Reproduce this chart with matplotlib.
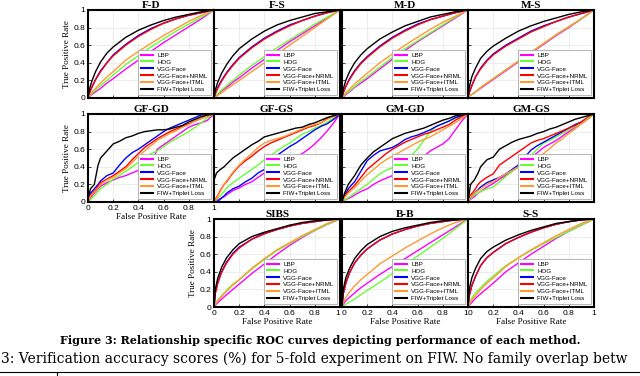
import matplotlib
matplotlib.use("Agg")
import matplotlib.pyplot as plt

# methods / colours
methods = ['LBP', 'HOG', 'VGG-Face', 'VGG-Face+NRML', 'VGG-Face+ITML', 'FIW+Triplet Loss']
colors = ['#ff00ff', '#66ff33', '#0000ff', '#ff0000', '#ff9933', '#000000']

# false positive rate grids (smooth panels / jagged panels)
fpr_s = [0, 0.01, 0.03, 0.06, 0.1, 0.15, 0.2, 0.3, 0.4, 0.5, 0.6, 0.7, 0.8, 0.9, 1.0]
fpr_j = [0, 0.02, 0.05, 0.08, 0.1, 0.15, 0.2, 0.25, 0.3, 0.35, 0.4, 0.45, 0.5,
         0.55, 0.6, 0.65, 0.7, 0.75, 0.8, 0.85, 0.9, 0.95, 1.0]

# true positive rates, order: LBP, HOG, VGG-Face, NRML, ITML, FIW
FD = [[0, .01, .04, .07, .11, .17, .22, .33, .43, .53, .63, .72, .81, .90, 1],
      [0, .02, .05, .09, .14, .20, .26, .38, .48, .58, .67, .76, .84, .92, 1],
      [0, .05, .12, .21, .31, .40, .49, .61, .71, .79, .85, .90, .94, .97, 1],
      [0, .05, .12, .21, .30, .40, .48, .60, .70, .78, .85, .90, .94, .97, 1],
      [0, .02, .06, .11, .17, .24, .30, .43, .53, .62, .71, .79, .87, .94, 1],
      [0, .09, .19, .30, .41, .51, .58, .69, .77, .83, .88, .92, .95, .98, 1]]
FS = [[0, .02, .04, .08, .12, .18, .23, .34, .44, .54, .64, .73, .82, .91, 1],
      [0, .02, .05, .09, .14, .20, .26, .37, .47, .57, .66, .75, .84, .92, 1],
      [0, .05, .12, .20, .29, .38, .46, .58, .68, .76, .83, .88, .93, .97, 1],
      [0, .05, .11, .19, .28, .37, .45, .57, .67, .75, .82, .88, .93, .97, 1],
      [0, .01, .03, .06, .10, .15, .20, .30, .40, .50, .60, .70, .80, .90, 1],
      [0, .09, .18, .28, .38, .48, .56, .67, .76, .83, .88, .92, .96, .98, 1]]
MD = [[0, .01, .04, .07, .12, .17, .22, .33, .44, .54, .64, .73, .82, .91, 1],
      [0, .02, .05, .08, .13, .19, .24, .35, .46, .56, .65, .74, .83, .92, 1],
      [0, .06, .13, .22, .31, .40, .47, .59, .69, .77, .84, .89, .93, .97, 1],
      [0, .06, .13, .21, .30, .39, .46, .58, .68, .76, .83, .89, .93, .97, 1],
      [0, .02, .06, .10, .16, .22, .28, .40, .50, .60, .69, .78, .86, .93, 1],
      [0, .10, .20, .30, .40, .49, .56, .67, .75, .82, .87, .92, .95, .98, 1]]
MS = [[0, .02, .04, .07, .11, .16, .21, .31, .41, .51, .61, .71, .80, .90, 1],
      [0, .02, .04, .07, .12, .17, .22, .32, .42, .52, .62, .72, .81, .90, 1],
      [0, .06, .14, .24, .34, .43, .50, .60, .68, .76, .82, .87, .92, .96, 1],
      [0, .06, .14, .24, .33, .42, .49, .59, .67, .75, .81, .87, .92, .96, 1],
      [0, .02, .04, .07, .12, .17, .22, .32, .42, .52, .62, .72, .81, .90, 1],
      [0, .12, .24, .34, .45, .53, .59, .68, .76, .82, .87, .91, .95, .98, 1]]

GFGD = [[0, .05, .10, .15, .18, .22, .25, .28, .30, .33, .36, .40, .44, .60, .65, .70, .75, .80, .85, .88, .90, .93, 1],
        [0, .03, .07, .12, .15, .20, .26, .30, .35, .40, .45, .50, .55, .58, .63, .68, .72, .76, .80, .85, .90, .96, 1],
        [0, .10, .15, .20, .24, .30, .33, .42, .50, .56, .60, .65, .70, .75, .80, .84, .87, .90, .93, .96, .99, 1, 1],
        [0, .08, .12, .18, .22, .26, .30, .35, .40, .48, .55, .62, .67, .72, .76, .80, .83, .86, .89, .92, .95, .98, 1],
        [0, .07, .11, .16, .20, .25, .28, .33, .38, .45, .52, .58, .64, .70, .74, .78, .81, .85, .88, .92, .95, .98, 1],
        [.05, .15, .20, .42, .50, .58, .66, .69, .73, .75, .78, .80, .81, .82, .82, .83, .85, .87, .91, .94, .97, .99, 1]]
GFGS = [[0, .02, .04, .06, .08, .13, .16, .20, .23, .28, .33, .36, .39, .43, .47, .51, .55, .60, .66, .73, .81, .90, 1],
        [0, .03, .07, .12, .16, .22, .27, .32, .37, .42, .48, .53, .58, .63, .67, .72, .77, .80, .84, .87, .91, .95, 1],
        [0, 0, .03, .07, .10, .15, .18, .23, .27, .33, .37, .47, .53, .58, .63, .67, .72, .77, .82, .86, .89, .94, 1],
        [0, .05, .13, .20, .23, .33, .41, .47, .52, .58, .63, .67, .70, .73, .76, .79, .82, .85, .87, .90, .95, .98, 1],
        [0, .04, .12, .20, .24, .34, .42, .49, .55, .62, .67, .70, .72, .74, .77, .80, .83, .86, .88, .90, .94, .97, 1],
        [.25, .33, .37, .40, .43, .50, .55, .60, .65, .69, .74, .76, .78, .80, .82, .84, .85, .88, .90, .93, .96, .98, 1]]
GMGD = [[0, .02, .04, .06, .08, .12, .15, .20, .24, .27, .30, .33, .37, .42, .47, .52, .58, .62, .66, .72, .82, .92, 1],
        [0, .02, .05, .08, .10, .15, .20, .26, .32, .36, .39, .43, .47, .53, .60, .70, .80, .86, .89, .92, .95, .98, 1],
        [0, .07, .15, .20, .23, .35, .47, .53, .58, .60, .62, .66, .71, .74, .76, .79, .82, .86, .89, .92, .96, .98, 1],
        [0, .06, .12, .16, .19, .28, .37, .43, .49, .55, .60, .64, .68, .71, .74, .77, .79, .82, .85, .88, .93, .97, 1],
        [0, .05, .10, .14, .16, .24, .31, .37, .43, .48, .52, .56, .60, .64, .68, .71, .74, .78, .82, .86, .90, .95, 1],
        [0, .10, .20, .26, .30, .42, .50, .57, .62, .67, .72, .75, .78, .80, .82, .84, .87, .90, .93, .95, .98, .99, 1]]
GMGS = [[0, .03, .06, .10, .12, .17, .21, .26, .30, .35, .40, .46, .51, .56, .62, .66, .70, .75, .80, .85, .89, .94, 1],
        [0, .04, .08, .10, .12, .15, .17, .23, .29, .35, .40, .47, .53, .60, .67, .70, .74, .78, .82, .86, .89, .94, 1],
        [0, .06, .10, .14, .17, .22, .25, .28, .32, .37, .42, .51, .59, .64, .68, .72, .76, .80, .84, .88, .91, .96, 1],
        [0, .08, .13, .20, .23, .28, .32, .42, .47, .52, .57, .62, .67, .70, .72, .75, .78, .81, .84, .87, .91, .96, 1],
        [0, .06, .10, .13, .15, .20, .23, .28, .32, .36, .40, .45, .49, .52, .55, .61, .67, .72, .78, .83, .89, .95, 1],
        [0, .20, .25, .33, .40, .48, .51, .60, .64, .68, .71, .73, .75, .78, .80, .83, .85, .88, .91, .94, .96, .98, 1]]

SIBS = [[0, .02, .05, .09, .14, .20, .26, .38, .49, .60, .70, .79, .87, .94, 1],
        [0, .04, .08, .13, .19, .26, .31, .43, .54, .64, .72, .80, .87, .94, 1],
        [0, .16, .28, .40, .51, .61, .68, .77, .84, .88, .92, .95, .97, .99, 1],
        [0, .15, .27, .39, .50, .60, .67, .77, .83, .88, .92, .95, .97, .99, 1],
        [0, .03, .07, .12, .18, .25, .31, .44, .55, .65, .73, .81, .88, .95, 1],
        [0, .20, .33, .45, .56, .65, .72, .80, .85, .89, .93, .96, .98, .99, 1]]
BB = [[0, .03, .07, .11, .16, .22, .27, .37, .46, .55, .64, .73, .82, .91, 1],
      [0, .01, .03, .06, .09, .14, .19, .28, .38, .48, .58, .68, .78, .89, 1],
      [0, .15, .27, .39, .50, .59, .66, .76, .83, .88, .92, .95, .97, .99, 1],
      [0, .15, .27, .39, .50, .59, .66, .76, .83, .88, .92, .95, .97, .99, 1],
      [0, .05, .11, .17, .24, .31, .37, .49, .58, .67, .75, .83, .90, .96, 1],
      [0, .20, .33, .44, .55, .64, .71, .80, .86, .90, .93, .96, .98, .99, 1]]
SS = [[0, .02, .05, .10, .15, .21, .27, .40, .50, .60, .69, .78, .86, .93, 1],
      [0, .05, .10, .16, .22, .29, .35, .47, .56, .64, .72, .79, .86, .93, 1],
      [0, .13, .24, .35, .47, .56, .62, .72, .79, .85, .90, .94, .97, .99, 1],
      [0, .13, .24, .35, .47, .56, .62, .72, .79, .85, .90, .94, .97, .99, 1],
      [0, .03, .08, .13, .20, .27, .33, .46, .56, .65, .73, .81, .88, .95, 1],
      [0, .20, .33, .44, .55, .63, .68, .76, .82, .87, .91, .95, .97, .99, 1]]

panels = [('F-D', FD, fpr_s), ('F-S', FS, fpr_s), ('M-D', MD, fpr_s), ('M-S', MS, fpr_s),
          ('GF-GD', GFGD, fpr_j), ('GF-GS', GFGS, fpr_j), ('GM-GD', GMGD, fpr_j), ('GM-GS', GMGS, fpr_j),
          ('SIBS', SIBS, fpr_s), ('B-B', BB, fpr_s), ('S-S', SS, fpr_s)]

serif = 'Liberation Serif'
sans = 'Liberation Sans'

fig = plt.figure(figsize=(6.4, 3.76), dpi=100)
W, H = 640.0, 376.0
lefts = [88, 214, 342, 468]
width = 126
rows_top = [10, 114, 219]
height = 88

for i, (name, tprs, fpr) in enumerate(panels):
    if i < 8:
        row, col = divmod(i, 4)
    else:
        row, col = 2, i - 8 + 1
    ax = fig.add_axes([lefts[col] / W, 1 - (rows_top[row] + height) / H, width / W, height / H])
    for tpr, c, m in zip(tprs, colors, methods):
        ax.plot(fpr, tpr, color=c, lw=1.0, label=m)
    ax.set_xlim(0, 1)
    ax.set_ylim(0, 1)
    ax.set_xticks([0, 0.2, 0.4, 0.6, 0.8, 1])
    ax.set_yticks([0, 0.2, 0.4, 0.6, 0.8, 1])
    ax.set_xticklabels(['0', '0.2', '0.4', '0.6', '0.8', '1'])
    ax.set_yticklabels(['0', '0.2', '0.4', '0.6', '0.8', '1'])
    ax.grid(True, color='#e6e6e6', lw=0.5)
    ax.tick_params(direction='in', length=2, width=0.5, labelsize=6, pad=2)
    for lab in ax.get_xticklabels() + ax.get_yticklabels():
        lab.set_family(sans)
    if row == 2:
        # neighbouring panels share the 1|0 corner
        xl = ax.get_xticklabels()
        if col > 1:
            xl[0].set_horizontalalignment('left')
        if col < 3:
            xl[-1].set_horizontalalignment('right')
    for s in ax.spines.values():
        s.set_linewidth(1.5)
    ax.set_title(name, fontsize=8, fontweight='bold', family=serif, pad=1.5)
    first_col = (col == 0) or (row == 2 and col == 1)
    if first_col:
        ax.set_ylabel('True Positive Rate', fontsize=6.6, family=serif, labelpad=2)
    else:
        ax.tick_params(labelleft=False)
    if row == 2 or (row == 1 and col == 0):
        ax.set_xlabel('False Positive Rate', fontsize=6.6, family=serif, labelpad=1)
    else:
        ax.tick_params(labelbottom=False)
    leg = ax.legend(loc='lower right', labelspacing=0.25, handlelength=2.0,
                    handletextpad=0.6, borderpad=0.4, borderaxespad=0.5, fancybox=False,
                    framealpha=1, edgecolor='#aaaaaa', prop={'family': sans, 'size': 4.5})
    leg.get_frame().set_linewidth(0.6)
    for h in leg.get_lines():
        h.set_linewidth(1.5)

fig.text(320 / W, 1 - 340 / H, 'Figure 3: Relationship specific ROC curves depicting performance of each method.',
         ha='center', va='center', fontsize=8.0, fontweight='bold', family='DejaVu Serif')
fig.text(1 / W, 1 - 359 / H, '3: Verification accuracy scores (%) for 5-fold experiment on FIW. No family overlap betw',
         ha='left', va='center', fontsize=10.0, family='DejaVu Serif')
fig.add_artist(plt.Line2D([0, 1], [1 - 372 / H, 1 - 372 / H], color='black', lw=0.8))
fig.add_artist(plt.Line2D([57 / W, 57 / W], [0, 1 - 372 / H], color='black', lw=0.8))

fig.savefig('out.png', dpi=100)
